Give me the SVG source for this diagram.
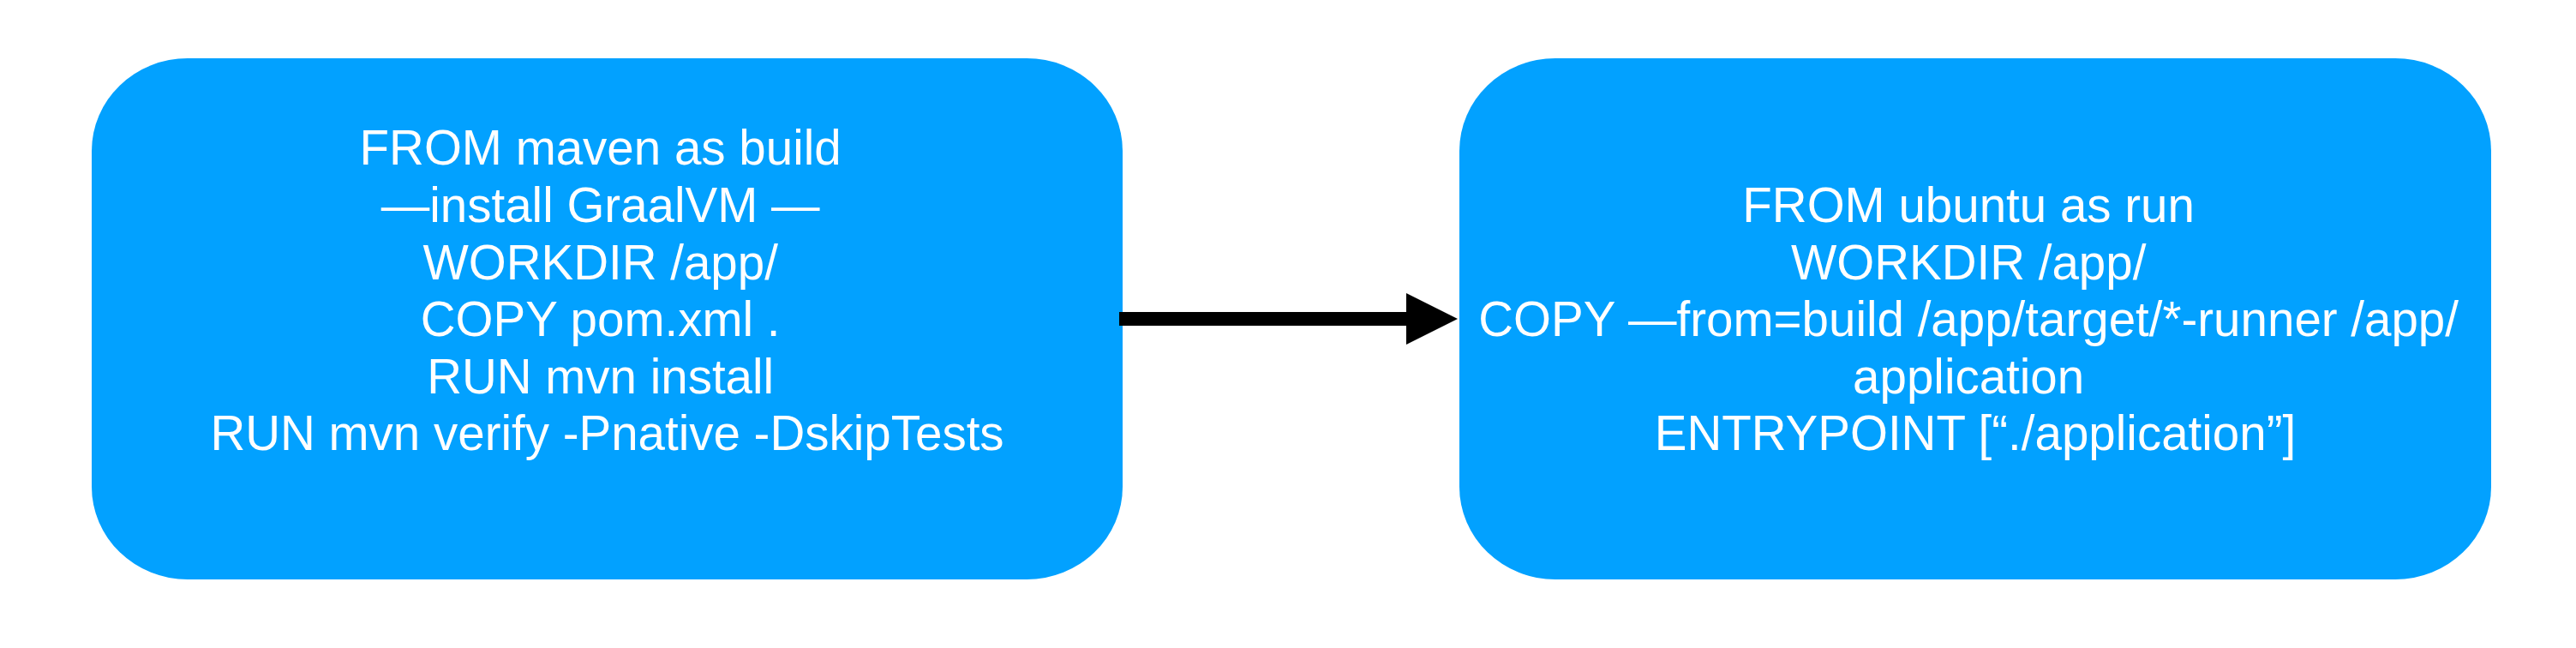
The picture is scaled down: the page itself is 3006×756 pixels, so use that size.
<svg xmlns="http://www.w3.org/2000/svg" width="3006" height="756" viewBox="0 0 3006 756">
<style>
.box{fill:#02A1FF}
.lbl{font-family:"Liberation Sans",Arial,Helvetica,sans-serif;font-size:56.5px;fill:#FFFFFF;text-anchor:middle}
</style>
<defs>
<marker id="ah" markerUnits="userSpaceOnUse" markerWidth="60" markerHeight="60" refX="0" refY="30" orient="auto">
<path d="M0,0 L60,30 L0,60 Z" fill="#000"/>
</marker>
</defs>
<rect width="3006" height="756" fill="#FFFFFF"/>
<g id="node-build">
<rect class="box" x="107" y="68" width="1203" height="608" rx="112" ry="108"/>
<text class="lbl" x="708.5">
<tspan x="708.5" y="192">FROM maven as build</tspan>
<tspan x="708.5" y="259">—install GraalVM —</tspan>
<tspan x="708.5" y="325.5">WORKDIR /app/</tspan>
<tspan x="708.5" y="392">COPY pom.xml .</tspan>
<tspan x="708.5" y="458.5">RUN mvn install</tspan>
<tspan x="708.5" y="525">RUN mvn verify -Pnative -DskipTests</tspan>
</text>
</g>
<g id="node-run">
<rect class="box" x="1703" y="68" width="1204" height="608" rx="112" ry="108"/>
<text class="lbl" x="2305">
<tspan x="2305" y="259">FROM ubuntu as run</tspan>
<tspan x="2305" y="325.5">WORKDIR /app/</tspan>
<tspan x="2305" y="392">COPY —from=build /app/target/*-runner /app/</tspan>
<tspan x="2305" y="458.5">application</tspan>
<tspan x="2305" y="525">ENTRYPOINT [“./application”]</tspan>
</text>
</g>
<g id="connectors">
<line x1="1306" y1="372" x2="1641" y2="372" stroke="#000" stroke-width="16" marker-end="url(#ah)"/>
</g>
</svg>
